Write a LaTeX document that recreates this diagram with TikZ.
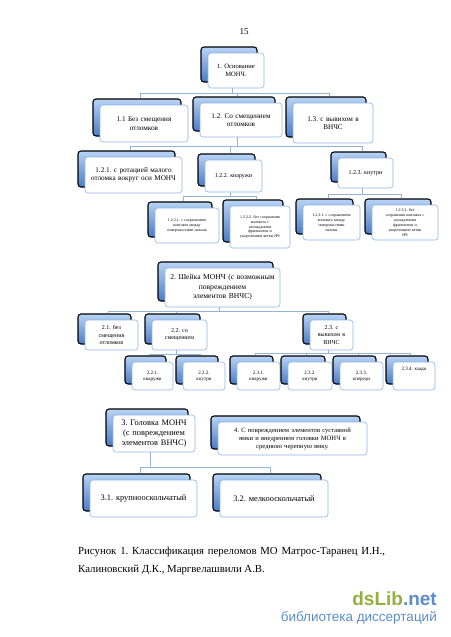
\documentclass[tikz,border=0pt]{standalone}
\usepackage{fontspec}
\setmainfont{Liberation Serif}
\newfontfamily\wmfont{Liberation Sans}
\usetikzlibrary{calc}
\frenchspacing
\definecolor{cline}{HTML}{95B3D7}
\definecolor{fborder}{HTML}{8EB4E3}
\definecolor{btop}{HTML}{B8D3F5}
\definecolor{bbot}{HTML}{4A7CC6}
\definecolor{wmgreen}{HTML}{94AE3F}
\definecolor{wmblue}{HTML}{5C8DC8}
\tikzset{
 backbox/.style={draw=black, line width=1.1pt, rounded corners=3pt, top color=btop, bottom color=bbot, inner sep=0pt},
 frontbox/.style={draw=fborder, line width=0.6pt, fill=white, rounded corners=3pt, align=center, inner sep=1pt},
 conn/.style={draw=cline, line width=0.7pt},
 txa/.style={font=\fontsize{4}{4.9}\selectfont},
 txb/.style={font=\fontsize{5}{6.2}\selectfont},
 txc/.style={font=\fontsize{6}{7.2}\selectfont},
 txd/.style={font=\fontsize{6.6}{8}\selectfont},
 txe/.style={font=\fontsize{7.2}{8.6}\selectfont},
 txf/.style={font=\fontsize{7.6}{9.6}\selectfont},
 txg/.style={font=\fontsize{8.4}{10}\selectfont},
}
\newcommand\obox[7]{%
 \pgfmathsetlengthmacro\obtw{#4-6}%
 \node[backbox, minimum width=#4pt, minimum height=#5pt] (#1b) at ([shift={(-7,-6)}]#2,#3) {};
 \node[frontbox, #6, minimum width=#4pt, minimum height=#5pt, text width=\obtw] (#1) at (#2,#3) {#7};
 \coordinate (#1c) at ($(#1.center)!0.5!(#1b.center)$);}
\begin{document}
\begin{tikzpicture}[x=1pt,y=-1pt]
\useasboundingbox (0,0) rectangle (450,637);
\node[font=\fontsize{9}{10}\selectfont] (pnum) at (244,32) {15};
% section 1
\obox{n1}{236}{70.5}{56}{35}{txd}{1. Основание\\ МОНЧ.}
\obox{n11}{144}{123.5}{88}{37}{txe}{1.1 Без смещения\\ отломков}
\obox{n12}{241}{120}{82}{34}{txe}{1.2. Со смещением\\ отломков}
\obox{n13}{333}{123}{80}{40}{txe}{1.3. с вывихом в\\ ВНЧС}
\obox{n121}{133.5}{175}{97}{36}{txe}{1.2.1. с ротацией малого\\ отломка вокруг оси МОНЧ}
\obox{n122}{233.5}{176}{57}{32}{txc}{1.2.2. кнаружи}
\obox{n123}{365.5}{173}{55}{30}{txc}{1.2.3. кнутри}
\obox{n1221}{187}{225.5}{64}{35}{txa}{1.2.2.1. с сохранением\\ контакта между\\ поверхностями излома}
\obox{n1222}{260}{227}{60}{42}{txa}{1.2.2.2. без сохранения\\ контакта с\\ захождением\\ фрагментов и\\ укорочением ветви НЧ}
\obox{n1231}{331.5}{222.5}{57}{35}{txa}{1.2.3.1. с сохранением\\ контакта между\\ поверхностями\\ излома}
\obox{n1232}{405}{222.5}{66}{35}{txa}{1.2.3.2. без\\ сохранения контакта с\\ захождением\\ фрагментов и\\ укорочением ветви\\ НЧ}
% section 2
\obox{n2}{222.5}{287.5}{115}{39}{txf}{2. Шейка МОНЧ (с возможным\\ повреждением\\ элементов ВНЧС)}
\obox{n21}{111.5}{335}{53}{30}{txc}{2.1. без\\ смещения\\ отломков}
\obox{n22}{179.5}{335}{55}{30}{txc}{2.2. со\\ смещением}
\obox{n23}{331.5}{335}{43}{30}{txc}{2.3. с\\ вывихом в\\ ВНЧС}
\obox{n221}{152.5}{376}{41}{28}{txb}{2.2.1.\\ кнаружи}
\obox{n222}{204}{376}{42}{28}{txb}{2.2.2.\\ кнутри}
\obox{n231}{258.5}{376}{43}{28}{txb}{2.3.1.\\ кнаружи}
\obox{n232}{310}{376}{44}{28}{txb}{2.3.2.\\ кнутри}
\obox{n233}{361.5}{376}{43}{28}{txb}{2.3.3.\\ кпереди}
\obox{n234}{414}{376}{42}{28}{txb}{2.3.4. кзади\\[8pt] \mbox{}}
% section 3
\obox{n3}{154}{433.5}{82}{37}{txg}{3. Головка МОНЧ\\ (с повреждением\\ элементов ВНЧС)}
\obox{n4}{292.5}{438.5}{149}{33}{txd}{4. С повреждением элементов суставной\\ ямки и внедрением головки МОНЧ в\\ среднюю черепную ямку.}
\obox{n31}{143.5}{498.5}{107}{37}{txg}{3.1. крупнооскольчатый}
\obox{n32}{274}{498.5}{108}{37}{txg}{3.2. мелкооскольчатый}
% buses
\coordinate (bus1) at (0,93);
\coordinate (bus2) at (0,146);
\coordinate (bus3a) at (0,196);
\coordinate (bus3b) at (0,194);
\coordinate (bus4) at (0,311);
\coordinate (bus5a) at (0,354);
\coordinate (bus5b) at (0,353);
\coordinate (bus6) at (0,467);
% connectors
\draw[conn] (n1.south -| n1c) -- (n1c |- bus1) -| (n11b.north -| n11c);
\draw[conn] (n1c |- bus1) -| (n12b.north -| n12c);
\draw[conn] (n1c |- bus1) -| (n13b.north -| n13c);
\draw[conn] (n12.south -| n12c) -- (n12c |- bus2) -| (n121b.north -| n121c);
\draw[conn] (n12c |- bus2) -| (n122b.north -| n122c);
\draw[conn] (n12c |- bus2) -| (n123b.north -| n123c);
\draw[conn] (n122.south -| n122c) -- (n122c |- bus3a) -| (n1221b.north -| n1221c);
\draw[conn] (n122c |- bus3a) -| (n1222b.north -| n1222c);
\draw[conn] (n123.south -| n123c) -- (n123c |- bus3b) -| (n1231b.north -| n1231c);
\draw[conn] (n123c |- bus3b) -| (n1232b.north -| n1232c);
\draw[conn] (n2.south -| n2c) -- (n2c |- bus4) -| (n21b.north -| n21c);
\draw[conn] (n2c |- bus4) -| (n22b.north -| n22c);
\draw[conn] (n2c |- bus4) -| (n23b.north -| n23c);
\draw[conn] (n22.south -| n22c) -- (n22c |- bus5a) -| (n221b.north -| n221c);
\draw[conn] (n22c |- bus5a) -| (n222b.north -| n222c);
\draw[conn] (n23.south -| n23c) -- (n23c |- bus5b) -| (n231b.north -| n231c);
\draw[conn] (n23c |- bus5b) -| (n232b.north -| n232c);
\draw[conn] (n23c |- bus5b) -| (n233b.north -| n233c);
\draw[conn] (n23c |- bus5b) -| (n234b.north -| n234c);
\draw[conn] (n3.south -| n3c) -- (n3c |- bus6) -| (n31b.north -| n31c);
\draw[conn] (n3c |- bus6) -| (n32b.north -| n32c);
% caption
\node[anchor=base west, inner sep=0pt, font=\fontsize{10.8}{13}\selectfont] (cap1) at (78,554)
 {\makebox[307pt][s]{Рисунок 1. Классификация переломов МО Матрос-Таранец И.Н.,}};
\node[anchor=base west, inner sep=0pt, font=\fontsize{10.8}{13}\selectfont] (cap2) at (78,572)
 {Калиновский Д.К., Маргвелашвили А.В.};
% watermark
\node[anchor=base east, inner sep=0pt, font=\wmfont\bfseries\fontsize{19}{20}\selectfont] (wm1) at (437,605)
 {\textcolor{wmgreen}{dsLib}\textcolor{wmblue}{.net}};
\node[anchor=base east, inner sep=0pt, font=\wmfont\fontsize{13.5}{15}\selectfont, text=wmblue] (wm2) at (437,621)
 {библиотека диссертаций};
\end{tikzpicture}
\end{document}
